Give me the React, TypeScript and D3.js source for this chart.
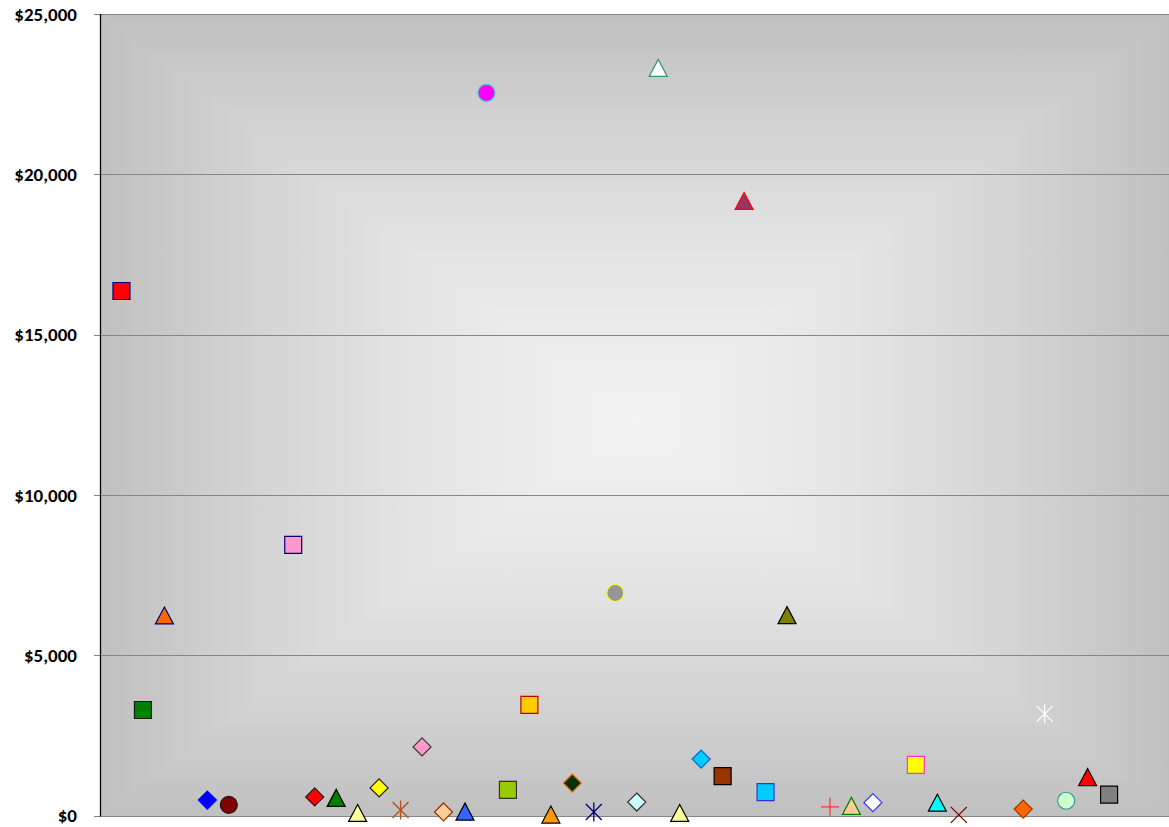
import React from "react";
import * as d3 from "d3";

// Category positions (1-based slots on a 0..50 axis) and values in dollars
const slots = [1, 2, 3, 5, 6, 9, 10, 11, 12, 13, 14, 15, 16, 17, 18, 19, 20, 21, 22, 23, 24, 25, 26, 27, 28, 29, 30, 31, 32, 34, 35, 36, 38, 39, 40, 43, 44, 45, 46, 47];
const values = [16360, 3290, 6240, 480, 330, 8440, 580, 550, 80, 860, 170, 2140, 110, 120, 22540, 800, 3450, 30, 1010, 110, 6940, 420, 23320, 80, 1760, 1230, 19170, 730, 6250, 270, 300, 400, 1580, 400, 20, 200, 3170, 460, 1200, 650];
const shapes = ["square", "square", "triangle", "diamond", "circle", "square", "diamond", "triangle", "triangle", "diamond", "star", "diamond", "diamond", "triangle", "circle", "square", "square", "triangle", "diamond", "star", "circle", "diamond", "triangle", "triangle", "diamond", "square", "triangle", "square", "triangle", "plus", "triangle", "diamond", "square", "triangle", "x", "diamond", "star", "circle", "triangle", "square"];
const fills = ["#FF0000", "#008000", "#FF6600", "#0000FF", "#800000", "#FF99CC", "#FF0000", "#008000", "#FFFF99", "#FFFF00", "none", "#FF99CC", "#FFCC99", "#3366FF", "#FF00FF", "#99CC00", "#FFCC00", "#FF9900", "#003300", "none", "#969696", "#CCFFFF", "#FFFFFF", "#FFFF99", "#00CCFF", "#993300", "#993366", "#00CCFF", "#808000", "none", "#FFCC99", "#FFFFFF", "#FFFF00", "#00FFFF", "none", "#FF6600", "none", "#CCFFCC", "#FF0000", "#808080"];
const strokes = ["#000080", "#1A1A1A", "#000080", "#0000FF", "#1A1A1A", "#000080", "#1A1A1A", "#000000", "#000000", "#1A1A1A", "#B5501F", "#333333", "#993300", "#000000", "#33CCCC", "#333333", "#C00000", "#000000", "#FF6600", "#000080", "#FFFF00", "#333333", "#339966", "#000000", "#0066CC", "#000000", "#FF0000", "#3333CC", "#000000", "#FF3333", "#008000", "#3333FF", "#FF33CC", "#000000", "#800000", "#993300", "#FFFFFF", "#339999", "#000000", "#000000"];

const yTicks = [0, 5000, 10000, 15000, 20000, 25000];

const W = 1169;
const H = 827;
const left = 100;
const top = 14;
const bottom = 815.5;
const right = 1173.5;

function markerPath(shape: string): string {
  switch (shape) {
    case "square":
      return "M-8.5,-8.5H8.5V8.5H-8.5Z";
    case "diamond":
      return "M0,-9L9,0L0,9L-9,0Z";
    case "triangle":
      return "M0,-8.5L9,8.5L-9,8.5Z";
    case "circle":
      return "M8.5,0A8.5,8.5,0,1,1,-8.5,0A8.5,8.5,0,1,1,8.5,0Z";
    case "star":
      return "M-8,-8L8,8M-8,8L8,-8M0,-9.5V9.5";
    case "plus":
      return "M-9,0H9M0,-9V9";
    case "x":
      return "M-8,-8L8,8M-8,8L8,-8";
    default:
      return "";
  }
}

export default function App() {
  const x = d3.scaleLinear().domain([0, 50]).range([left, right]);
  const y = d3.scaleLinear().domain([0, 25000]).range([bottom, top]);
  const fmt = (v: number) => "$" + d3.format(",")(v);

  const cx = (left + right) / 2 - 2;
  const cy = (top + bottom) / 2 + 6;
  const stops = (
    <>
      <stop offset="0" stopColor="#F3F3F3" />
      <stop offset="0.4" stopColor="#E5E5E5" />
      <stop offset="0.75" stopColor="#D1D1D1" />
      <stop offset="1" stopColor="#C0C0C0" />
    </>
  );

  return (
    <div style={{ position: "fixed", left: 0, top: 0 }}>
      <svg width={W} height={H} style={{ display: "block", background: "#FFFFFF" }}>
        <defs>
          <linearGradient id="gTop" gradientUnits="userSpaceOnUse" x1={cx} y1={cy} x2={cx} y2={top}>{stops}</linearGradient>
          <linearGradient id="gBot" gradientUnits="userSpaceOnUse" x1={cx} y1={cy} x2={cx} y2={bottom}>{stops}</linearGradient>
          <linearGradient id="gLeft" gradientUnits="userSpaceOnUse" x1={cx} y1={cy} x2={left} y2={cy}>{stops}</linearGradient>
          <linearGradient id="gRight" gradientUnits="userSpaceOnUse" x1={cx} y1={cy} x2={right} y2={cy}>{stops}</linearGradient>
        </defs>

        {/* rectangular centre-out fill of the plot area */}
        <g shapeRendering="crispEdges">
          <polygon points={`${left},${top} ${right},${top} ${cx},${cy}`} fill="url(#gTop)" stroke="url(#gTop)" strokeWidth={0.5} />
          <polygon points={`${left},${bottom} ${right},${bottom} ${cx},${cy}`} fill="url(#gBot)" stroke="url(#gBot)" strokeWidth={0.5} />
          <polygon points={`${left},${top} ${left},${bottom} ${cx},${cy}`} fill="url(#gLeft)" stroke="url(#gLeft)" strokeWidth={0.5} />
          <polygon points={`${right},${top} ${right},${bottom} ${cx},${cy}`} fill="url(#gRight)" stroke="url(#gRight)" strokeWidth={0.5} />
        </g>

        {/* gridlines and ticks */}
        {yTicks.map((t) => (
          <g key={t}>
            <line x1={left - 6} x2={right} y1={Math.round(y(t)) + 0.5} y2={Math.round(y(t)) + 0.5} stroke="#868686" strokeWidth={1} />
            <text
              x={77}
              y={y(t)}
              dy="0.35em"
              textAnchor="end"
              fontFamily="Carlito, 'Liberation Sans', Arial, sans-serif"
              fontWeight="bold"
              fontSize={19}
              fill="#000000"
            >
              {fmt(t)}
            </text>
          </g>
        ))}
        <line x1={left + 0.5} x2={left + 0.5} y1={top} y2={bottom + 1} stroke="#000000" strokeWidth={1.3} />

        {/* markers */}
        {slots.map((s, i) => (
          <path
            key={i}
            transform={`translate(${x(s)},${y(values[i])})`}
            d={markerPath(shapes[i])}
            fill={fills[i]}
            stroke={strokes[i]}
            strokeWidth={shapes[i] === "star" || shapes[i] === "plus" || shapes[i] === "x" ? 1.3 : 1.2}
          />
        ))}
      </svg>
    </div>
  );
}
